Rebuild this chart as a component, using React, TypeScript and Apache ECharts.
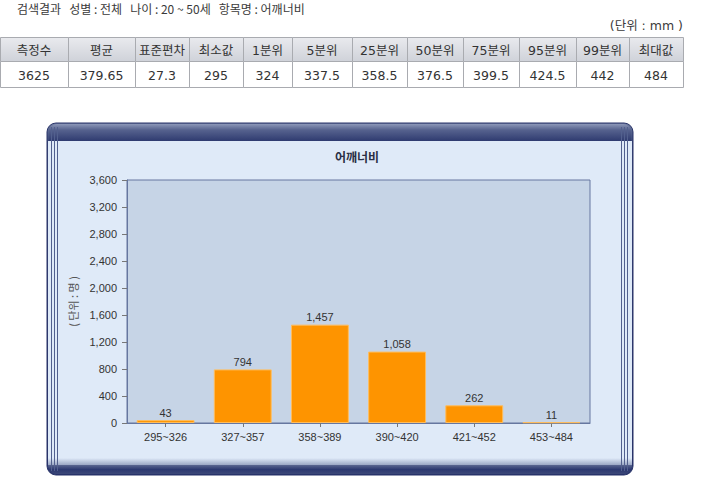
import React, { useEffect, useRef } from "react";
import * as echarts from "echarts";

const headerText = "검색결과   성별 : 전체   나이 : 20 ~ 50세   항목명 : 어깨너비";
const unitText = "(단위 : mm )";
const tableHeaders = ["측정수", "평균", "표준편차", "최소값", "1분위", "5분위", "25분위", "50분위", "75분위", "95분위", "99분위", "최대값"];
const tableValues = ["3625", "379.65", "27.3", "295", "324", "337.5", "358.5", "376.5", "399.5", "424.5", "442", "484"];
const colEdges = [0, 68, 135, 189, 243, 292, 352, 407, 463, 519, 576, 629, 683];

const chartTitle = "어깨너비";
const categories = ["295~326", "327~357", "358~389", "390~420", "421~452", "453~484"];
const counts = [43, 794, 1457, 1058, 262, 11];
const yAxisName = "( 단위 : 명 )";

const KR = "'Noto Sans CJK KR', 'Noto Sans', sans-serif";
const TB = "'DejaVu Sans', 'Noto Sans CJK KR', sans-serif";
const AR = "'Liberation Sans', Arial, sans-serif";

export default function App() {
  const ref = useRef<HTMLDivElement>(null);
  useEffect(() => {
    document.body.style.margin = "0";
    const chart = echarts.init(ref.current!, null, { renderer: "svg" });
    const graphics: any[] = [];

    // header texts
    graphics.push({
      type: "text", left: 17, top: 2, z: 10,
      style: { text: headerText, font: `12px ${KR}`, fill: "#3a3a3a" },
    });
    graphics.push({
      type: "text", x: 683, y: 25, z: 10,
      style: { text: unitText, font: `12.5px ${TB}`, fill: "#3a3a3a", textAlign: "right", textVerticalAlign: "middle" },
    });

    // table
    const rowTop = 37, rowMid = 61, rowBot = 87;
    for (let i = 0; i < tableHeaders.length; i++) {
      const x0 = colEdges[i], x1 = colEdges[i + 1];
      graphics.push({
        type: "rect", z: 5,
        shape: { x: x0 + 0.5, y: rowTop + 0.5, width: x1 - x0, height: rowMid - rowTop },
        style: {
          fill: new echarts.graphic.LinearGradient(0, 0, 0, 1, [
            { offset: 0, color: "#e9eaee" },
            { offset: 1, color: "#cfd2d9" },
          ]),
          stroke: "#a9abb0", lineWidth: 1,
        },
      });
      graphics.push({
        type: "rect", z: 5,
        shape: { x: x0 + 0.5, y: rowMid + 0.5, width: x1 - x0, height: rowBot - rowMid },
        style: { fill: "#ffffff", stroke: "#a9abb0", lineWidth: 1 },
      });
      graphics.push({
        type: "text", z: 6, x: (x0 + x1) / 2, y: (rowTop + rowMid) / 2 + 1,
        style: { text: tableHeaders[i], font: `12.5px ${TB}`, fill: "#333", textAlign: "center", textVerticalAlign: "middle" },
      });
      graphics.push({
        type: "text", z: 6, x: (x0 + x1) / 2, y: (rowMid + rowBot) / 2 + 1,
        style: { text: tableValues[i], font: `12.5px ${TB}`, fill: "#333", textAlign: "center", textVerticalAlign: "middle" },
      });
    }

    // chart frame
    const fx = 47, fy = 123, fw = 586, fh = 352;
    graphics.push({
      type: "rect", z: -20,
      shape: { x: fx, y: fy, width: fw, height: fh, r: 9 },
      style: {
        fill: new echarts.graphic.LinearGradient(0, 0, 0, 1, [
          { offset: 0, color: "#6d7aa0" },
          { offset: 0.05, color: "#3b4878" },
          { offset: 1, color: "#26326a" },
        ]),
        stroke: "#2a356a", lineWidth: 1,
      },
    });
    graphics.push({
      type: "rect", z: -19,
      shape: { x: fx + 2, y: fy + 1, width: fw - 4, height: 17, r: [8, 8, 0, 0] },
      style: {
        fill: new echarts.graphic.LinearGradient(0, 0, 0, 1, [
          { offset: 0, color: "#8c97b8" },
          { offset: 0.35, color: "#56628e" },
          { offset: 1, color: "#2f3b70" },
        ]),
      },
    });
    graphics.push({
      type: "rect", z: -18,
      shape: { x: fx + 1, y: 141, width: fw - 2, height: 318 },
      style: { fill: "#dfeaf8" },
    });
    graphics.push({
      type: "rect", z: -18,
      shape: { x: fx + 1, y: 458, width: fw - 2, height: 7 },
      style: {
        fill: new echarts.graphic.LinearGradient(0, 0, 0, 1, [
          { offset: 0, color: "#dfeaf8" },
          { offset: 1, color: "#9aa6c4" },
        ]),
      },
    });
    graphics.push({
      type: "rect", z: -17,
      shape: { x: fx + 1, y: 465, width: fw - 2, height: 9, r: [0, 0, 8, 8] },
      style: {
        fill: new echarts.graphic.LinearGradient(0, 0, 0, 1, [
          { offset: 0, color: "#5a6690" },
          { offset: 0.5, color: "#2c3870" },
          { offset: 1, color: "#3c4878" },
        ]),
      },
    });
    const stripeXs = [51.5, 54.5, 57.5, 621.5, 624.5, 627.5];
    stripeXs.forEach((sx) => {
      graphics.push({
        type: "line", z: -16,
        shape: { x1: sx, y1: 127, x2: sx, y2: 471 },
        style: { stroke: "#52608e", lineWidth: 1 },
      });
    });
    graphics.push({
      type: "text", z: 10, x: 357, y: 156,
      style: { text: chartTitle, font: `bold 12px ${KR}`, fill: "#2a2f45", textAlign: "center", textVerticalAlign: "middle" },
    });

    chart.setOption({
      animation: false,
      graphic: graphics,
      grid: {
        left: 127, right: 115, top: 180, bottom: 64,
        show: true, backgroundColor: "#c6d4e6", borderColor: "#6677a0", borderWidth: 1,
        containLabel: false,
      },
      xAxis: {
        type: "category",
        data: categories,
        axisLine: { show: true, lineStyle: { color: "#6677a0" } },
        axisTick: { show: true, alignWithLabel: true, length: 4, lineStyle: { color: "#777" } },
        axisLabel: { color: "#333", fontFamily: AR, fontSize: 11, margin: 8 },
        splitLine: { show: false },
      },
      yAxis: {
        type: "value",
        min: 0, max: 3600, interval: 400,
        name: yAxisName,
        nameLocation: "middle",
        nameGap: 44,
        nameRotate: 90,
        nameTextStyle: { color: "#555", fontFamily: KR, fontSize: 11 },
        axisLine: { show: true, lineStyle: { color: "#6677a0" } },
        axisTick: { show: true, length: 5, lineStyle: { color: "#777" } },
        axisLabel: {
          color: "#333", fontFamily: AR, fontSize: 11, margin: 10,
          formatter: (v: number) => v.toLocaleString("en-US"),
        },
        splitLine: { show: false },
      },
      series: [
        {
          type: "bar",
          data: counts,
          barWidth: "75%",
          itemStyle: { color: "#fe9400", borderColor: "#ffbd5c", borderWidth: 1 },
          label: {
            show: true, position: "top", distance: 2,
            color: "#333", fontFamily: AR, fontSize: 11,
            formatter: (p: any) => Number(p.value).toLocaleString("en-US"),
          },
        },
      ],
    });
    return () => chart.dispose();
  }, []);
  return <div ref={ref} style={{ width: 705, height: 487, background: "#fff" }} />;
}
